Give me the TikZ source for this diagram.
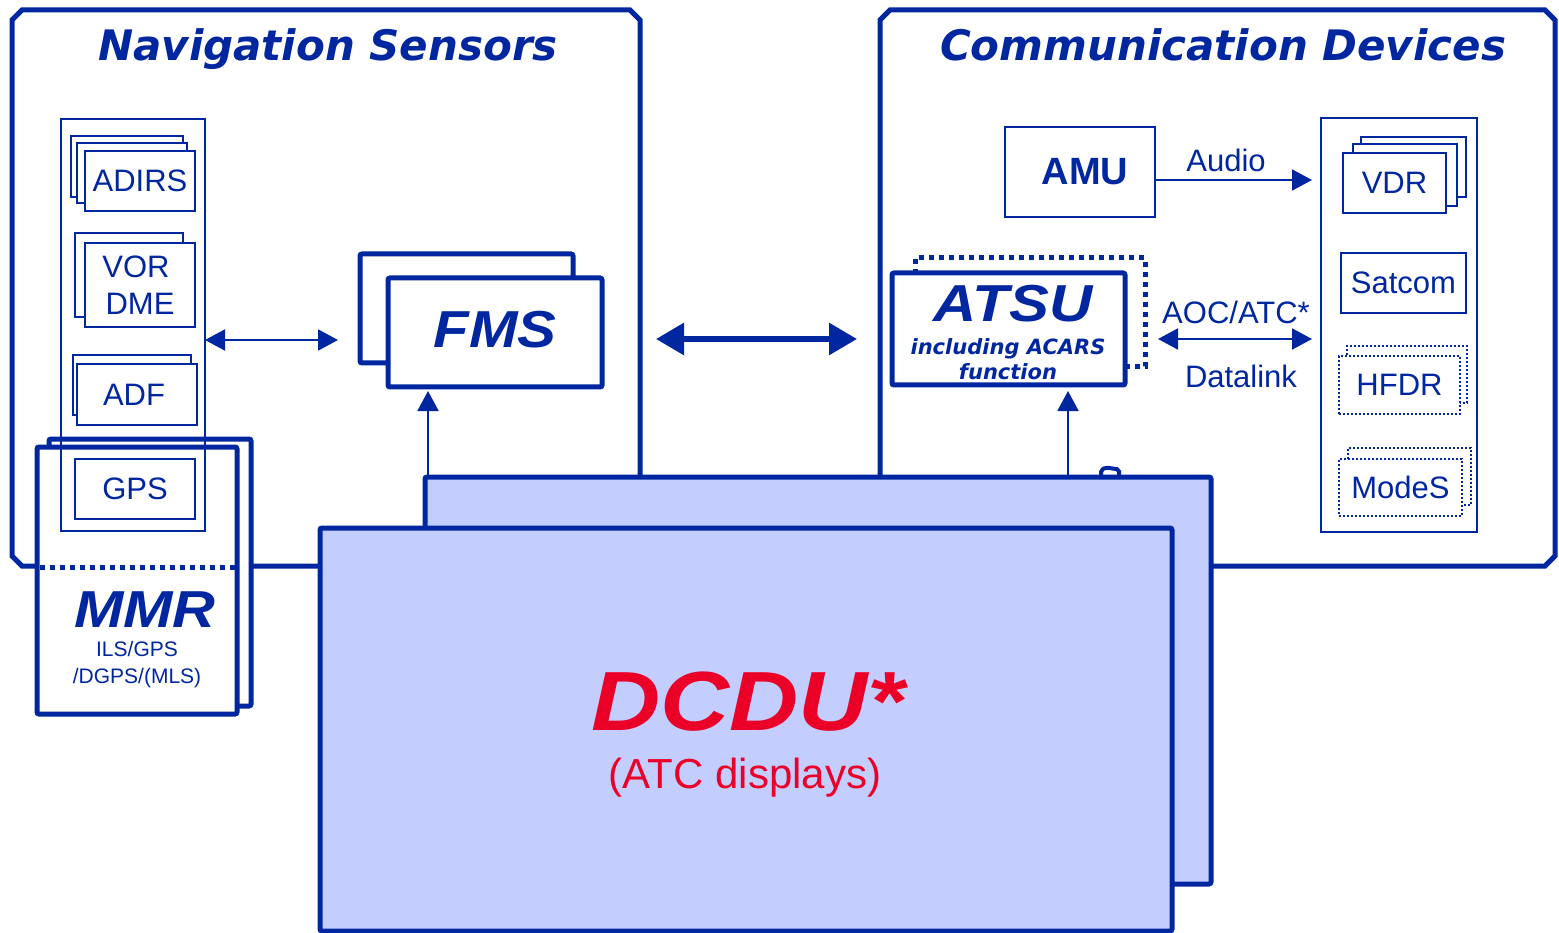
\documentclass[tikz,border=0pt]{standalone}
\usepackage{fontspec}
\usepackage{graphicx}
\setmainfont{Liberation Sans}
\newfontfamily\verd{DejaVu Sans}
\usetikzlibrary{arrows.meta}
\definecolor{navy}{RGB}{0,38,160}
\definecolor{dfill}{RGB}{195,206,255}
\definecolor{dred}{RGB}{235,0,40}
\pgfdeclarelayer{front}
\pgfsetlayers{main,front}
\begin{document}
\begin{tikzpicture}[x=1pt,y=-1pt,
  every node/.style={text=navy, inner sep=0pt, outer sep=0pt},
  frame/.style={draw=navy, line width=5pt},
  col/.style={draw=navy, line width=2pt},
  sbox/.style={draw=navy, line width=2pt, fill=white, font=\fontsize{31}{37}\selectfont},
  dbox/.style={draw=navy, line width=1.8pt, dash pattern=on 2pt off 2pt, fill=white, font=\fontsize{31}{37}\selectfont},
  heavy/.style={draw=navy, line width=5pt, fill=white, rounded corners=2pt},
  dcdu/.style={draw=navy, line width=5pt, fill=dfill, rounded corners=2pt},
  title/.style={font=\verd\bfseries\itshape\fontsize{42}{48}\selectfont, anchor=base},
  big/.style={font=\bfseries\itshape\fontsize{52}{60}\selectfont},
  lbl/.style={font=\fontsize{31}{37}\selectfont},
  onearrow/.style={draw=navy, line width=2pt, -{Triangle[length=20pt,width=21pt]}},
  twoarrow/.style={draw=navy, line width=2pt, {Triangle[length=20pt,width=21pt]}-{Triangle[length=20pt,width=21pt]}},
  bigarrow/.style={draw=navy, line width=6pt, {Triangle[length=28pt,width=31pt]}-{Triangle[length=28pt,width=31pt]}}
]
\useasboundingbox (0,0) rectangle (1559,933);

% frames
\draw[frame] (12,20) -- (22,10) -- (630,10) -- (640,20) -- (640,556) -- (630,566) -- (22,566) -- (12,556) -- cycle;
\draw[frame] (880,20) -- (890,10) -- (1545,10) -- (1555,20) -- (1555,556) -- (1545,566) -- (890,566) -- (880,556) -- cycle;
\node[title] (navtitle) at (328,61) {Navigation Sensors};
\node[title] (comtitle) at (1223,61) {Communication Devices};

% DCDU on the front layer
\begin{pgfonlayer}{front}
\node[dcdu, minimum width=786pt, minimum height=407pt] (dcdub) at (818,680.5) {};
\node[dcdu, minimum width=852pt, minimum height=403pt] (dcduf) at (746,729.5) {};
\node[font=\bfseries\itshape\fontsize{84}{90}\selectfont, text=dred] (dcdut) at (748,702) {\scalebox{1.14}[1]{DCDU*}};
\node[font=\fontsize{42}{48}\selectfont, text=dred] (dcdus) at (745,778) {(ATC displays)};
\end{pgfonlayer}

% MMR
\node[heavy, minimum width=202pt, minimum height=267pt] (mmrb) at (150,572.5) {};
\node[heavy, minimum width=200pt, minimum height=267pt] (mmrf) at (137,580.5) {};
\draw[navy, line width=5pt, dash pattern=on 5pt off 5pt] ([xshift=3pt]mmrf.west |- 0,567) -- ([xshift=-2pt]mmrf.east |- 0,567);
\node[big] (mmrt) at (145,610) {\scalebox{1.14}[1]{MMR}};
\node[align=center, font=\fontsize{21}{27}\selectfont] (mmrs) at (137,665) {ILS/GPS\\/DGPS/(MLS)};

% navigation column
\node[col, minimum width=144pt, minimum height=412pt] (navcol) at (133,325) {};
\node[sbox, minimum width=112pt, minimum height=61pt] (adirs3) at (127,166.5) {};
\node[sbox, minimum width=110pt, minimum height=60pt] (adirs2) at (132,173) {};
\node[sbox, minimum width=110pt, minimum height=60pt] (adirs) at (140,181) {ADIRS};
\node[sbox, minimum width=108pt, minimum height=84pt] (vor2) at (129,275) {};
\node[sbox, minimum width=110pt, minimum height=84pt, align=center] (vor) at (140,285) {\hspace*{-8pt}VOR\\DME};
\node[sbox, minimum width=118pt, minimum height=60pt] (adf2) at (132,385) {};
\node[sbox, minimum width=120pt, minimum height=61pt] (adf) at (137,394.5) {\hspace*{-6pt}ADF};
\node[sbox, minimum width=120pt, minimum height=60pt] (gps) at (135,489) {GPS};

% FMS
\node[heavy, minimum width=213pt, minimum height=109pt] (fmsb) at (466.5,308.5) {};
\node[heavy, minimum width=214pt, minimum height=109pt] (fmsf) at (495,332.5) {};
\node[big] (fmst) at (495,330) {\scalebox{1.12}[1]{FMS}};

\coordinate (fmsl) at (338,340);
\draw[twoarrow] (navcol.east |- fmsl) -- (fmsl);
\coordinate (fmsin) at (428,391);
\draw[onearrow] (fmsin |- dcdub.north) -- (fmsin);

% big link
\coordinate (bigl) at (656,339);
\coordinate (bigr) at (857,339);
\draw[bigarrow] (bigl) -- (bigr);

% communication side
\node[col, minimum width=150pt, minimum height=90pt, font=\bfseries\fontsize{38}{44}\selectfont] (amu) at (1080,172) {\hspace*{10pt}AMU};
\coordinate (audioend) at (1312,180);
\draw[onearrow] (amu.east |- audioend) -- (audioend);
\node[lbl] (audio) at (1226,160) {Audio};

\node[col, minimum width=156pt, minimum height=414pt] (comcol) at (1399,325) {};
\node[sbox, minimum width=105pt, minimum height=60pt] (vdr3) at (1413.5,167) {};
\node[sbox, minimum width=104pt, minimum height=62pt] (vdr2) at (1405,175) {};
\node[sbox, minimum width=103pt, minimum height=60pt] (vdr) at (1394.5,183) {VDR};
\node[sbox, minimum width=125pt, minimum height=60pt] (satcom) at (1403.5,283) {Satcom};
\node[dbox, minimum width=120pt, minimum height=57pt] (hfdr2) at (1407,374.5) {};
\node[dbox, minimum width=121pt, minimum height=58pt] (hfdr) at (1399.5,385) {HFDR};
\node[dbox, minimum width=123pt, minimum height=57pt] (modes2) at (1409.5,476.5) {};
\node[dbox, minimum width=123pt, minimum height=57pt] (modes) at (1400.5,487.5) {ModeS};

% ATSU
\node[draw=navy, line width=5pt, dash pattern=on 5pt off 5pt, minimum width=230pt, minimum height=109pt] (atsub) at (1030,312.5) {};
\node[heavy, minimum width=233pt, minimum height=112pt] (atsu) at (1008.5,329) {};
\node[big] (atsut) at (1013,304) {\scalebox{1.15}[1]{ATSU}};
\node[align=center, font=\verd\bfseries\itshape\fontsize{21}{25}\selectfont] (atsus) at (1008,359) {including ACARS\\function};
\coordinate (atsuin) at (1068,391);
\draw[onearrow] (atsuin |- dcdub.north) -- (atsuin);

\coordinate (aocl) at (1158,339);
\coordinate (aocr) at (1312,339);
\draw[twoarrow] (aocl) -- (aocr);
\node[lbl] (aoc) at (1236,312) {AOC/ATC*};
\node[lbl] (datalink) at (1241,376) {Datalink};

% small fragment peeking above DCDU
\draw[navy, line width=4pt, rounded corners=2pt] (1101,480) -- (1101,470) -- (1106,467.5) -- (1119,469.5) -- (1119,480);
\end{tikzpicture}
\end{document}
